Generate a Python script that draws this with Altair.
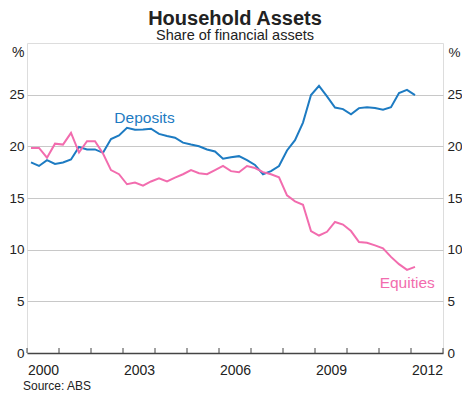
import altair as alt
import pandas as pd

# Quarterly observations, 2000 Q1 .. 2012 Q1
start_year = 2000.125
deposits = [18.44, 18.1, 18.67, 18.3, 18.44, 18.73, 19.94, 19.7, 19.7, 19.37,
            20.7, 21.06, 21.8, 21.6, 21.64, 21.7, 21.2, 21.0, 20.84, 20.36,
            20.17, 20.0, 19.7, 19.5, 18.8, 18.95, 19.05, 18.67, 18.2, 17.3,
            17.6, 18.1, 19.6, 20.6, 22.3, 24.96, 25.86, 24.83, 23.75, 23.6,
            23.1, 23.7, 23.78, 23.7, 23.55, 23.78, 25.15, 25.47, 24.96]
equities = [19.85, 19.85, 18.9, 20.26, 20.17, 21.3, 19.4, 20.5, 20.5, 19.3,
            17.7, 17.3, 16.33, 16.5, 16.2, 16.6, 16.9, 16.6, 16.97, 17.3,
            17.7, 17.4, 17.3, 17.7, 18.1, 17.6, 17.5, 18.1, 17.9, 17.5,
            17.3, 17.0, 15.25, 14.67, 14.35, 11.8, 11.37, 11.73, 12.68, 12.43,
            11.8, 10.74, 10.67, 10.42, 10.13, 9.3, 8.6, 8.05, 8.34]
year_ticks = list(range(2000, 2014))
year_labels = [2000.5, 2003.5, 2006.5, 2009.5, 2012.5]
y_ticks = [0, 5, 10, 15, 20, 25]
series_labels = ["Deposits", "Equities"]
label_year = [2002.73, 2011.02]
label_value = [22.3, 6.3]
title_text = "Household Assets"
subtitle_text = "Share of financial assets"
source_text = "Source: ABS"

BLUE = "#1D7BC2"
PINK = "#F26CAE"
FONT = "Liberation Sans"
W, H = 416, 310

years = [start_year + 0.25 * i for i in range(len(deposits))]
df_dep = pd.DataFrame({"year": years, "value": deposits})
df_eq = pd.DataFrame({"year": years, "value": equities})
df_lab = pd.DataFrame({"year": label_year, "value": label_value,
                       "name": series_labels, "c": [BLUE, PINK]})
df_ticks = pd.DataFrame({"year": year_ticks})
one = pd.DataFrame({"a": [0]})

xscale = alt.Scale(domain=[2000, 2013], nice=False, zero=False)
yscale = alt.Scale(domain=[0, 30], nice=False, zero=True)

x_axis = alt.Axis(values=year_labels, labelExpr="floor(datum.value)",
                  ticks=False, grid=False, domainColor="#444", domainWidth=1.5,
                  labelFontSize=14, labelColor="#222", labelPadding=10,
                  labelFont=FONT, title=None)

left_axis = alt.Axis(values=y_ticks, ticks=False, domain=False, grid=True,
                     gridColor="#c8c8c8", labelFontSize=13.5, labelColor="#222",
                     labelPadding=3, labelFont=FONT,
                     title="%", titleAngle=0, titleX=-3, titleY=13,
                     titleAlign="right", titleBaseline="alphabetic",
                     titleFontSize=14, titleFontWeight="normal",
                     titleColor="#222", titleFont=FONT)
right_axis = alt.Axis(values=y_ticks, ticks=False, domain=False, grid=False,
                      orient="right", labelFontSize=13.5, labelColor="#222",
                      labelPadding=4, labelFont=FONT,
                      title="%", titleAngle=0, titleX=5, titleY=13,
                      titleAlign="left", titleBaseline="alphabetic",
                      titleFontSize=13.5, titleFontWeight="normal",
                      titleColor="#222", titleFont=FONT)

dep_line = alt.Chart(df_dep).mark_line(color=BLUE, strokeWidth=2).encode(
    x=alt.X("year:Q", scale=xscale, axis=x_axis),
    y=alt.Y("value:Q", scale=yscale, axis=left_axis),
)
eq_line = alt.Chart(df_eq).mark_line(color=PINK, strokeWidth=2).encode(
    x=alt.X("year:Q", scale=xscale),
    y=alt.Y("value:Q", scale=yscale, axis=right_axis),
)
labels = alt.Chart(df_lab).mark_text(align="left", baseline="alphabetic",
                                     fontSize=15.5, font=FONT).encode(
    x=alt.X("year:Q", scale=xscale),
    y=alt.Y("value:Q", scale=yscale, axis=None),
    text="name:N",
    color=alt.Color("c:N", scale=None, legend=None),
)
ticks = alt.Chart(df_ticks).mark_rule(color="#444", strokeWidth=1).encode(
    x=alt.X("year:Q", scale=xscale),
    y=alt.value(H - 5),
    y2=alt.value(H),
)
source = alt.Chart(one).mark_text(
    align="left", baseline="alphabetic", fontSize=12, font=FONT, color="#222"
).encode(x=alt.value(-4), y=alt.value(347), text=alt.value(source_text))
title = alt.Chart(one).mark_text(
    align="center", baseline="alphabetic", fontSize=20, fontWeight="bold",
    font=FONT, color="#222"
).encode(x=alt.value(W / 2), y=alt.value(-18.5), text=alt.value(title_text))
subtitle = alt.Chart(one).mark_text(
    align="center", baseline="alphabetic", fontSize=14.5, font=FONT,
    color="#222"
).encode(x=alt.value(W / 2), y=alt.value(-3), text=alt.value(subtitle_text))

chart = alt.layer(dep_line, eq_line, labels, ticks, source, title,
                  subtitle).resolve_scale(
    y="independent"
).resolve_axis(y="independent").properties(
    width=W, height=H,
    autosize=alt.AutoSizeParams(type="none"),
    padding={"left": 19, "top": 35, "right": 19, "bottom": 40},
).configure_view(stroke="#888", strokeWidth=1).configure(background="white")

chart.save("out.html", embed_options={"renderer": "svg", "actions": False})
